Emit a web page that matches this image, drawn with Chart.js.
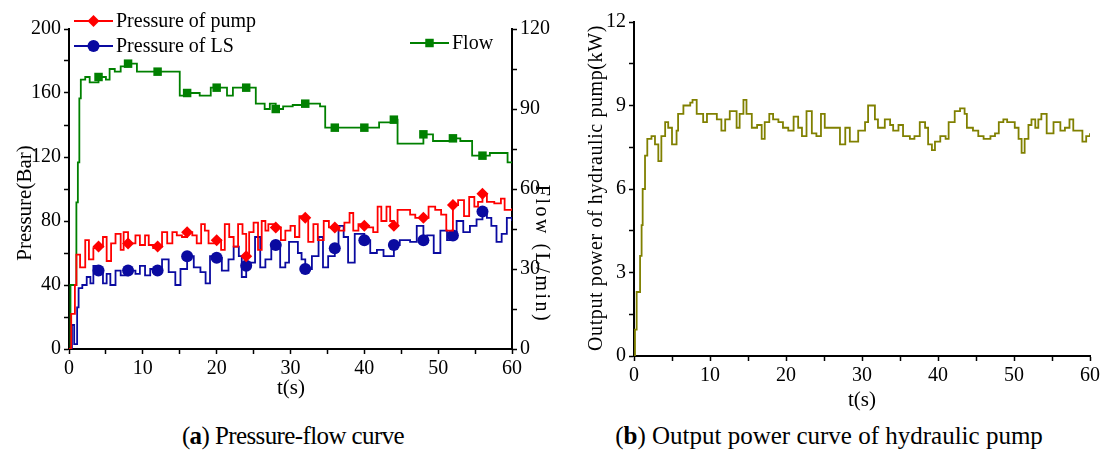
<!DOCTYPE html>
<html>
<head>
<meta charset="utf-8">
<script src="https://cdn.jsdelivr.net/npm/chart.js@4.4.1/dist/chart.umd.min.js"></script>
<style>
  body { margin: 0; background: #fff; width: 1105px; height: 459px; overflow: hidden; position: relative; font-family: 'Liberation Serif', serif; }
  .box { position: absolute; top: 0; }
  .cap { position: absolute; top: 422px; transform: translateX(-50%); font-family: 'Liberation Serif', serif; font-size: 25px; color: #000; white-space: nowrap; }
</style>
</head>
<body>
<div class="box" style="left:0;width:560px;height:400px"><canvas id="chartA"></canvas></div>
<div class="box" style="left:560px;width:545px;height:415px"><canvas id="chartB"></canvas></div>
<div class="cap" style="left:293px;letter-spacing:-0.6px">(<b>a</b>) Pressure-flow curve</div>
<div class="cap" style="left:829px">(<b>b</b>) Output power curve of hydraulic pump</div>
<script>
// time (s) and pressure of pump (Bar)
const pumpTime = [0, 0.3, 0.8, 1.0, 1.5, 2.2, 2.7, 3.3, 4, 4.6, 5.1, 5.7, 6.3, 7, 7.4, 8, 9, 9.6,
  10.3, 10.8, 11.4, 12, 12.6, 13.3, 14, 14.6, 15.3, 16, 16.7, 17.3, 17.9, 18.4, 18.9, 20,
  20.6, 21.1, 21.7, 22.3, 22.9, 23.5, 24, 24.4, 25, 25.6, 26.1, 26.6, 27, 28, 28.7, 29.3,
  30, 30.6, 31.2, 32, 32.4, 33.1, 33.7, 34.5, 35.2, 36, 36.6, 37.3, 38, 38.5, 39.2,
  40, 40.6, 41.2, 41.8, 42.3, 43, 43.5, 44, 44.5, 45.3, 46.2, 46.9, 48, 48.7, 49.6,
  50.4, 51.1, 52, 52.7, 53.5, 54.2, 54.9, 55.4, 56, 56.6, 57.6, 58.5, 59, 60];
const pumpPressure = [0, 22, 40, 59, 51, 68, 56, 63, 64, 70, 55, 66, 72, 62, 73, 66, 71, 65,
  71, 65, 63, 64, 73, 66, 73, 71, 70, 73, 71, 66, 78, 74, 66, 68,
  62, 78, 70, 64, 78, 72, 58, 73, 79, 62, 80, 74, 78, 76, 68, 74,
  77, 70, 83, 82, 67, 78, 68, 80, 76, 76, 74, 79, 85, 74, 78,
  77, 76, 73, 89, 80, 89, 80, 77, 87, 87, 84, 82, 82, 89, 87,
  84, 74, 90, 93, 83, 95, 89, 92, 97, 92, 91, 94, 87, 88];

// time (s) and pressure of LS (Bar)
const lsTime = [0, 0.4, 0.7, 1.1, 1.3, 1.8, 2.4, 2.9, 3.3, 4, 4.6, 5.1, 5.6, 6.3, 7, 8, 9, 9.6,
  10.3, 11, 12, 12.6, 13.5, 14.4, 15.1, 16, 16.9, 17.8, 18.5, 19.1, 20,
  20.7, 21.6, 22.3, 23, 23.4, 24, 24.6, 25.2, 25.9, 26.6, 27.4, 28, 28.6, 29.3, 29.8,
  31, 31.5, 32, 32.9, 33.8, 34.4, 35.1, 36, 36.5, 37.2, 37.8, 38.7,
  40, 40.8, 41.7, 42.6, 44, 44.8, 46.2, 47.1, 48, 48.5, 49.4,
  50.3, 51.2, 52, 52.5, 53.4, 54.3, 55.2, 56, 56.6, 57.2, 57.9, 58.6, 59.3, 60];
const lsPressure = [0, 15, 3, 26, 38, 40, 45, 41, 52, 49, 41, 47, 40, 49, 46, 49, 47, 52,
  46, 50, 49, 56, 48, 40, 50, 58, 51, 48, 41, 58, 57,
  49, 56, 64, 58, 45, 52, 54, 70, 51, 56, 63, 65, 51, 54, 67,
  60, 56, 50, 58, 70, 51, 58, 63, 77, 70, 54, 72,
  68, 60, 62, 58, 65, 68, 67, 77, 68, 71, 60,
  74, 68, 71, 80, 73, 77, 81, 86, 82, 77, 67, 72, 82, 80];

// time (s) and flow (L/min)
const flowTime = [0, 0.2, 0.8, 1.0, 1.2, 1.4, 1.6, 2.2, 2.8, 3.8,
  4, 5, 5.5, 6.2, 7, 8, 9.2, 10, 12, 14.6,
  15, 16, 17.7, 19.2, 20, 21.4, 22.2, 24, 25.3, 26.5,
  27.2, 28, 29, 30.3, 32, 34, 34.7, 36, 38, 40,
  42, 44, 44.5, 45.8, 48, 49.3, 52, 53, 54.6, 56,
  57, 58.1, 59.4, 60];
const flowRate = [0, 24, 24, 55, 70, 94, 101, 102, 100, 100,
  102, 101, 105, 104, 106, 107, 104, 104, 104, 104,
  95, 96, 95, 98, 98, 95, 98, 98, 92, 90,
  92, 90, 91, 91.5, 92, 91, 83, 83, 83, 83,
  85, 86, 77, 77, 80.5, 78, 79, 78, 72.5, 72.5,
  73.5, 73.5, 70, 70];

// time (s) and output power of hydraulic pump (kW)
const powerTime = [0, 0.13, 0.35, 0.8, 1.0, 1.14, 1.45, 1.75, 2.3, 2.76,
  3.2, 3.6, 4.1, 4.5, 5.0, 5.6, 5.8, 6.5, 6.7, 7.4,
  7.7, 8.25, 9.1, 9.6, 10.2, 10.9, 11.5, 12, 12.6, 13.5,
  13.9, 14.4, 14.8, 15.5, 16.2, 16.8, 17.2, 17.8, 18.3, 19,
  19.6, 20.3, 21, 21.6, 22.1, 22.7, 23.4, 24, 24.6, 25.1,
  25.8, 26.4, 27.1, 27.8, 28.4, 29.1, 29.5, 30.2, 30.4, 30.8,
  31.3, 31.7, 32.1, 33, 33.7, 34.1, 34.8, 35.4, 36.3, 36.9,
  37.6, 38.3, 38.7, 39.2, 39.6, 40.3, 41, 41.4, 42.2, 42.9,
  43.5, 43.8, 44.6, 45.3, 46, 46.9, 47.5, 48, 48.6, 49.1,
  49.7, 50.1, 50.6, 51, 51.4, 51.9, 52.3, 52.8, 53.2, 53.6,
  54.3, 55.2, 56.1, 56.7, 57.3, 57.8, 58.5, 59, 59.5, 60];
const powerValue = [0, 0.95, 2.3, 3.6, 4.7, 6.0, 7.2, 7.8, 7.9, 7.6,
  7.0, 7.9, 8.4, 8.2, 7.6, 8.1, 8.7, 9.0, 9.0, 9.1,
  9.2, 8.7, 8.4, 8.7, 8.7, 8.5, 8.1, 8.5, 8.8, 8.2,
  8.7, 9.2, 8.7, 8.2, 8.3, 7.8, 8.4, 8.7, 8.5, 8.4,
  8.2, 8.1, 8.6, 8.2, 7.9, 8.8, 8.0, 7.9, 8.7, 8.2,
  8.2, 8.2, 7.6, 8.2, 7.7, 7.7, 8.1, 8.1, 8.4, 9.0,
  9.0, 8.5, 8.2, 8.5, 8.3, 8.1, 8.3, 7.9, 7.8, 7.9,
  8.4, 8.2, 7.6, 7.4, 7.7, 7.9, 7.8, 8.4, 8.8, 8.9,
  8.7, 8.2, 8.1, 7.9, 7.8, 7.9, 8.0, 8.4, 8.5, 8.4,
  8.4, 8.2, 7.8, 7.3, 7.8, 8.3, 8.5, 8.2, 8.5, 8.7,
  8.0, 8.4, 8.1, 8.2, 8.5, 8.1, 8.1, 7.7, 7.9, 8.0];

const xTicks = [0, 10, 20, 30, 40, 50, 60];
const pressureTicks = [0, 40, 80, 120, 160, 200];
const flowTicks = [0, 30, 60, 90, 120];
const powerTicks = [0, 3, 6, 9, 12];

const RED = '#ff0000', BLUE = '#0a0aa0', GREEN = '#008000', OLIVE = '#808000';
const FONT = '"Liberation Serif", serif';

const toXY = (ts, vs) => ts.map((t, i) => ({x: t, y: vs[i]}));
const isMarker = (t) => t > 0 && t < 60 && t % 4 === 0;

function axisBase(min, max, step, labels) {
  return {
    min: min, max: max,
    border: {display: true, color: '#000', width: 2},
    grid: {drawOnChartArea: false, drawTicks: true, tickLength: 5, tickColor: '#000', tickWidth: 1.5},
    ticks: {
      stepSize: step, color: '#000', padding: 3, maxRotation: 0, autoSkip: false,
      font: {family: FONT, size: 20},
      callback: (v) => labels.includes(v) ? String(v) : ''
    }
  };
}

function fixSize(prop, n) {
  return (scale) => { scale[prop] = n; };
}

function lineSet(label, ts, vs, color, style, axis) {
  return {
    label: label, data: toXY(ts, vs), yAxisID: axis,
    borderColor: color, backgroundColor: color, borderWidth: 1.8,
    stepped: true, pointStyle: style,
    pointRadius: (c) => isMarker(c.raw.x) ? 6 : 0,
    pointHoverRadius: 0, pointBorderWidth: 0
  };
}

// rotated / spaced axis titles drawn on the canvas
function axisTitles(items) {
  return {
    id: 'axisTitles',
    afterDraw(chart) {
      const ctx = chart.ctx;
      items.forEach((it) => {
        ctx.save();
        ctx.translate(it.x, it.y);
        ctx.rotate(it.rot * Math.PI / 180);
        ctx.font = it.size + 'px ' + FONT;
        ctx.letterSpacing = (it.spacing || 0) + 'px';
        ctx.fillStyle = '#000';
        ctx.textAlign = 'center';
        ctx.textBaseline = 'middle';
        ctx.fillText(it.text, 0, 0);
        ctx.restore();
      });
    }
  };
}

const legendA = {
  id: 'legendA',
  afterDraw(chart) {
    const ctx = chart.ctx;
    const items = [
      {x: 74, y: 21, text: 'Pressure of pump', color: RED, style: 'rectRot'},
      {x: 74, y: 46, text: 'Pressure of LS', color: BLUE, style: 'circle'},
      {x: 410, y: 43, text: 'Flow', color: GREEN, style: 'rect'}
    ];
    ctx.save();
    items.forEach((it) => {
      ctx.strokeStyle = it.color;
      ctx.fillStyle = it.color;
      ctx.lineWidth = 1.8;
      ctx.beginPath();
      ctx.moveTo(it.x, it.y);
      ctx.lineTo(it.x + 39, it.y);
      ctx.stroke();
      Chart.helpers.drawPoint(ctx, {pointStyle: it.style, radius: 6, borderWidth: 0}, it.x + 19.5, it.y);
      ctx.fillStyle = '#000';
      ctx.font = '20px ' + FONT;
      ctx.textBaseline = 'middle';
      ctx.fillText(it.text, it.x + 42, it.y + 1);
    });
    ctx.restore();
  }
};

Chart.defaults.font.family = FONT;

function drawCharts() {
  const xA = axisBase(0, 60, 5, xTicks);
  xA.type = 'linear';
  xA.afterFit = fixSize('height', 51);

  const yP = axisBase(0, 200, 20, pressureTicks);
  yP.position = 'left';
  yP.afterFit = fixSize('width', 69);

  const yF = axisBase(0, 120, 15, flowTicks);
  yF.position = 'right';
  yF.afterFit = fixSize('width', 48);

  new Chart(document.getElementById('chartA'), {
    type: 'line',
    data: {
      datasets: [
        lineSet('Pressure of pump', pumpTime, pumpPressure, RED, 'rectRot', 'yP'),
        lineSet('Pressure of LS', lsTime, lsPressure, BLUE, 'circle', 'yP'),
        lineSet('Flow', flowTime, flowRate, GREEN, 'rect', 'yF')
      ]
    },
    options: {
      responsive: true, maintainAspectRatio: false, animation: false,
      layout: {padding: {top: 29, left: 0, right: 0, bottom: 0}},
      plugins: {legend: {display: false}, tooltip: {enabled: false}},
      scales: {x: xA, yP: yP, yF: yF}
    },
    plugins: [legendA, axisTitles([
      {text: 'Pressure(Bar)', x: 25, y: 203, rot: -90, size: 21},
      {text: 'Flow (L/min)', x: 541, y: 254, rot: 90, size: 20, spacing: 2.5},
      {text: 't(s)', x: 291, y: 388, rot: 0, size: 21}
    ])]
  });

  const xB = axisBase(0, 60, 5, xTicks);
  xB.type = 'linear';
  xB.afterFit = fixSize('height', 59);

  const yW = axisBase(0, 12, 1.5, powerTicks);
  yW.afterFit = fixSize('width', 74);

  new Chart(document.getElementById('chartB'), {
    type: 'line',
    data: {
      datasets: [{
        label: 'Output power', data: toXY(powerTime, powerValue),
        borderColor: OLIVE, borderWidth: 1.8, stepped: true,
        pointRadius: 0, pointHoverRadius: 0
      }]
    },
    options: {
      responsive: true, maintainAspectRatio: false, animation: false,
      layout: {padding: {top: 22, left: 0, right: 15, bottom: 0}},
      plugins: {legend: {display: false}, tooltip: {enabled: false}},
      scales: {x: xB, y: yW}
    },
    plugins: [axisTitles([
      {text: 'Output power of hydraulic pump(kW)', x: 37, y: 188, rot: -90, size: 20, spacing: 0.6},
      {text: 't(s)', x: 302, y: 400, rot: 0, size: 21}
    ])]
  });
}

// make sure the serif face is ready before the canvas draws text
document.fonts.load('20px "Liberation Serif"').then(drawCharts, drawCharts);
</script>
</body>
</html>
